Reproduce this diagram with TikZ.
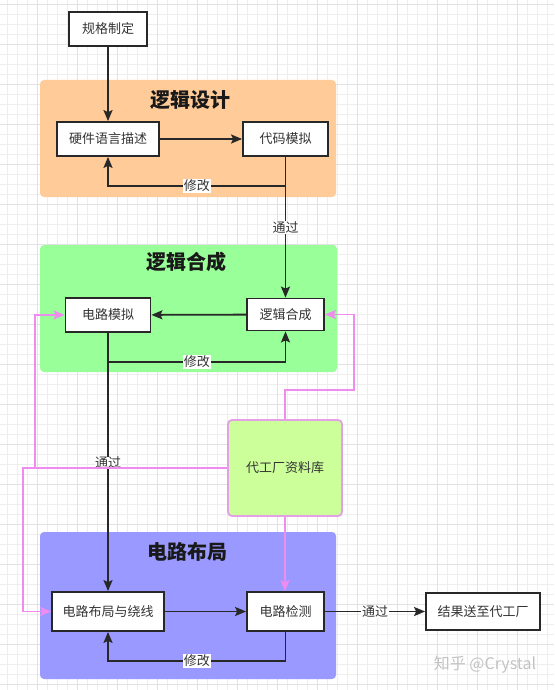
\documentclass[tikz,border=0pt]{standalone}
\usepackage{fontspec}
\newfontfamily\cjk{Noto Sans CJK SC}
\usetikzlibrary{arrows.meta}
\newcommand\setfs[1]{\fontsize{#1}{#1}\selectfont}
\definecolor{orangep}{RGB}{255,204,153}
\definecolor{greenp}{RGB}{153,255,153}
\definecolor{bluep}{RGB}{153,153,255}
\definecolor{libfill}{RGB}{204,255,153}
\definecolor{pinkl}{RGB}{240,140,240}
\definecolor{pinkb}{RGB}{228,160,228}
\definecolor{darkl}{RGB}{40,40,40}
\definecolor{gridminor}{RGB}{238,238,238}
\definecolor{gridmajor}{RGB}{226,226,226}
\definecolor{wm}{RGB}{195,195,195}
\tikzset{
  panel/.style={rounded corners=4pt, draw=none, inner sep=0pt},
  box/.style={draw=darkl, line width=1.8pt, fill=white, inner sep=0pt, font=\cjk\setfs{13pt}, text=black!80},
  title/.style={font=\cjk\bfseries\setfs{20pt}, text=black!90, inner sep=0pt},
  arr/.style={draw=darkl, line width=1.8pt, -{Stealth[length=11pt, width=9pt, inset=2pt]}},
  parr/.style={draw=pinkl, line width=1.8pt, -{Stealth[length=11pt, width=9pt, inset=2pt]}},
  lbl/.style={fill=white, inner sep=0.8pt, font=\cjk\setfs{13pt}, text=black!80},
}
\begin{document}
\begin{tikzpicture}[x=1pt,y=-1pt]
\useasboundingbox (0,0) rectangle (554,690);
\fill[white] (0,0) rectangle (554,690);
% grid
\foreach \i in {7,17,...,547} \draw[gridminor, line width=0.6pt] (\i,0) -- (\i,690);
\foreach \j in {4,14,...,684} \draw[gridminor, line width=0.6pt] (0,\j) -- (554,\j);
\foreach \i in {37,77,...,517} \draw[gridmajor, line width=0.6pt] (\i,0) -- (\i,690);
\foreach \j in {4,44,...,684} \draw[gridmajor, line width=0.6pt] (0,\j) -- (554,\j);

% panels
\node[panel, fill=orangep, minimum width=296pt, minimum height=117pt] (p1) at (188,138.5) {};
\node[panel, fill=greenp, minimum width=297pt, minimum height=127pt] (p2) at (188.5,308.5) {};
\node[panel, fill=bluep, minimum width=296pt, minimum height=147pt] (p3) at (188,605.5) {};
\node[title] (t1) at (190,100) {逻辑设计};
\node[title] (t2) at (186,262) {逻辑合成};
\node[title] (t3) at (187,552) {电路布局};

% boxes
\node[box, minimum width=78pt, minimum height=34pt] (spec) at (108,29) {规格制定};
\node[box, minimum width=102pt, minimum height=34pt] (hdl) at (108,139) {硬件语言描述};
\node[box, minimum width=85pt, minimum height=34pt] (code) at (285.5,139) {代码模拟};
\node[box, minimum width=85pt, minimum height=34pt] (sim) at (108,315) {电路模拟};
\node[box, minimum width=77pt, minimum height=32pt] (synth) at (285.5,314.5) {逻辑合成};
\node[box, minimum width=112pt, minimum height=39pt] (layout) at (108,611.5) {电路布局与绕线};
\node[box, minimum width=77pt, minimum height=39pt] (check) at (285.5,611.5) {电路检测};
\node[box, minimum width=114pt, minimum height=37pt] (result) at (483,611.5) {结果送至代工厂};
\node[draw=pinkb, line width=1.8pt, fill=libfill, rounded corners=4pt, minimum width=114pt, minimum height=96pt, inner sep=0pt, font=\cjk\setfs{13pt}, text=black!80] (lib) at (285,468) {代工厂资料库};

% helper coordinates
\coordinate (y1) at (0,186);
\coordinate (y2) at (0,362);
\coordinate (y3) at (0,661);
\coordinate (yA) at (0,390);
\coordinate (xB) at (354,0);
\coordinate (xL1) at (35,0);
\coordinate (xL2) at (23,0);

% black connectors
\draw[arr] (spec) -- (hdl);
\draw[arr] (hdl) -- (code);
\draw[arr] (code.south) -- (code.south |- y1) -- node[lbl] {修改} (hdl.south |- y1) -- (hdl.south);
\draw[arr] (code.south) -- node[lbl] {通过} (synth.north);
\draw[arr] (synth) -- (sim);
\draw[arr] (sim.south) -- (sim.south |- y2) -- node[lbl] {修改} (synth.south |- y2) -- (synth.south);
\draw[arr] (sim.south) -- node[lbl, inner sep=0.3pt, yshift=-1pt] {通过} (layout.north);
\draw[arr] (layout) -- (check);
\draw[arr] (check.south) -- (check.south |- y3) -- node[lbl] {修改} (layout.south |- y3) -- (layout.south);
\draw[arr] (check) -- node[lbl] {通过} (result);

% pink connectors
\draw[parr] (lib.north) -- (lib.north |- yA) -- (xB |- yA) -- (xB |- synth.east) -- (synth.east);
\draw[parr] (lib.west) -- (xL1 |- lib.west) -- (xL1 |- sim.west) -- (sim.west);
\draw[parr] (lib.west) -- (xL2 |- lib.west) -- (xL2 |- layout.west) -- (layout.west);
\draw[parr] (lib.south) -- (lib.south |- check.north);

% watermark
\node[font=\cjk\setfs{16pt}, text=wm, inner sep=0pt] (wmark) at (485,665) {知乎 @Crystal};
\end{tikzpicture}
\end{document}
